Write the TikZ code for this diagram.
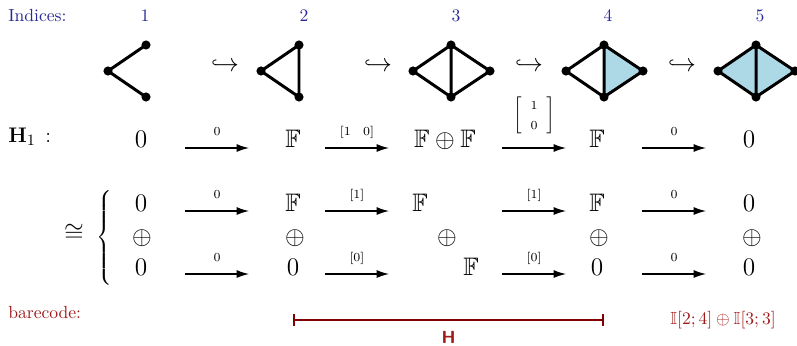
\documentclass[tikz,border=0pt]{standalone}
\usepackage{amsmath,amssymb}
\usetikzlibrary{arrows.meta}
\definecolor{idxblue}{RGB}{40,40,150}
\definecolor{barred}{RGB}{160,25,25}
\definecolor{bardark}{RGB}{130,0,0}
\definecolor{facecol}{RGB}{173,216,230}
\begin{document}
\begin{tikzpicture}[x=0.02cm,y=-0.02cm,>={Latex[length=7pt,width=4.5pt]},
  idx/.style={text=idxblue,inner sep=0pt},
  term/.style={font=\Large,anchor=base,inner sep=0pt},
  lab/.style={font=\scriptsize,midway,above=7pt,inner sep=0pt,text depth=0pt},
  edge/.style={line width=1.7pt,line join=round},
  map/.style={->,line width=0.7pt}]
\useasboundingbox (0,0) rectangle (797,345);
% 指标
\node[idx,anchor=base west] (ind) at (8,21) {Indices:};
\foreach \i/\x in {1/145,2/304,3/456,4/608,5/760}
  \node[idx,anchor=base] (n\i) at (\x,21) {\i};
% 复形
\foreach \k/\x in {1/108,2/261,3/413,4/566,5/718} {
  \coordinate (l\k) at (\x,71);
  \coordinate (t\k) at (\x+38,45);
  \coordinate (b\k) at (\x+38,97);
  \coordinate (r\k) at (\x+77,71);
}
\fill[facecol] (t4) -- (r4) -- (b4) -- cycle;
\fill[facecol] (l5) -- (t5) -- (r5) -- (b5) -- cycle;
\draw[edge] (t1) -- (l1) -- (b1);
\draw[edge] (t2) -- (l2) -- (b2) -- cycle;
\foreach \k in {3,4,5}
  \draw[edge] (l\k) -- (t\k) -- (r\k) -- (b\k) -- cycle (t\k) -- (b\k);
\foreach \k in {1,...,5}
  \foreach \v in {l,t,b}
    \fill (\v\k) circle (2.6pt);
\foreach \k in {3,4,5}
  \fill (r\k) circle (2.6pt);
\foreach \i/\x in {1/225,2/378,3/529,4/682}
  \node[font=\Large] (h\i) at (\x,66) {$\hookrightarrow$};
% 同调
\node[font=\fontsize{13}{15}\selectfont,anchor=base west,inner sep=0pt] (hh) at (8,142) {$\mathbf{H}_1\,:$};
\foreach \i/\x/\t in {1/141/0,2/293/\mathbb{F},3/445/\mathbb{F}\oplus\mathbb{F},4/597/\mathbb{F},5/749/0}
  \node[term] (a\i) at (\x,147) {$\t$};
\foreach \r/\y in {a/148,b/211,c/274}
  \foreach \j/\s in {1/185,2/325,3/502,4/642} {
    \coordinate (\r s\j) at (\s,\y);
    \coordinate (\r e\j) at (\s+64,\y);
  }
\draw[map] (as1) -- (ae1) node[lab] {$0$};
\draw[map] (as2) -- (ae2) node[lab] {$[1\quad 0]$};
\draw[map] (as3) -- (ae3) node[midway,above=7pt,font=\scriptsize,inner sep=0pt]
  {\renewcommand\arraystretch{1.4}$\left[\begin{array}{c}1\\0\end{array}\right]$};
\draw[map] (as4) -- (ae4) node[lab] {$0$};
% 分解
\node[font=\Large] (iso) at (74,233) {$\cong$};
\node[inner sep=0pt] (brc) at (105,238) {$\left\{\vphantom{\rule[-25pt]{0pt}{50pt}}\right.$};
\foreach \i/\x/\t in {1/141/0,2/293/\mathbb{F},3/420/\mathbb{F},4/597/\mathbb{F},5/749/0}
  \node[term] (b\i) at (\x,211) {$\t$};
\foreach \i/\x in {1/142,2/295,3/447,4/599,5/752}
  \node[term] (p\i) at (\x,244) {$\oplus$};
\foreach \i/\x/\t in {1/141/0,2/293/0,3/471/\mathbb{F},4/597/0,5/749/0}
  \node[term] (c\i) at (\x,275) {$\t$};
\draw[map] (bs1) -- (be1) node[lab] {$0$};
\draw[map] (bs2) -- (be2) node[lab] {$[1]$};
\draw[map] (bs3) -- (be3) node[lab] {$[1]$};
\draw[map] (bs4) -- (be4) node[lab] {$0$};
\draw[map] (cs1) -- (ce1) node[lab] {$0$};
\draw[map] (cs2) -- (ce2) node[lab] {$[0]$};
\draw[map] (cs3) -- (ce3) node[lab] {$[0]$};
\draw[map] (cs4) -- (ce4) node[lab] {$0$};
% 条形码
\node[text=barred,anchor=base west,inner sep=0pt] (bc) at (8,318) {barecode:};
\coordinate (bl) at (293,320);
\coordinate (bre) at (604,320);
\draw[bardark,line width=1.1pt,{Bar[width=7pt]}-{Bar[width=7pt]}] (bl) -- (bre)
  node[midway,below=6pt,font=\sffamily\bfseries,text=barred,inner sep=0pt] (hl) {H};
\node[text=barred] (bsum) at (723,320) {$\mathbb{I}[2;4]\oplus\mathbb{I}[3;3]$};
\end{tikzpicture}
\end{document}
